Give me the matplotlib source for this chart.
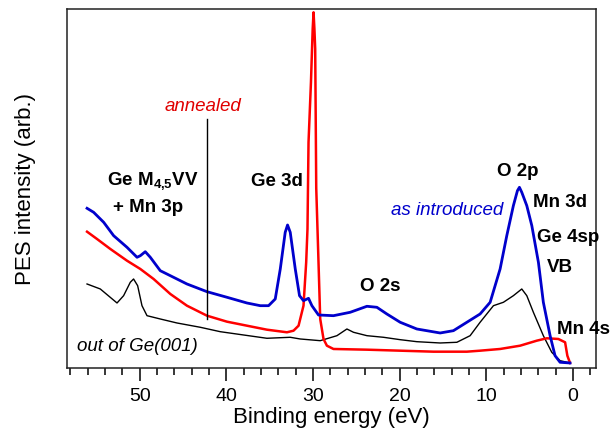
import matplotlib
matplotlib.use('Agg')
import matplotlib.pyplot as plt
from matplotlib.ticker import MultipleLocator, NullLocator

plt.rcParams['font.family'] = ['Liberation Sans', 'DejaVu Sans']
plt.rcParams['mathtext.fontset'] = 'custom'
plt.rcParams['mathtext.rm'] = 'Liberation Sans'
plt.rcParams['mathtext.bf'] = 'Liberation Sans:bold'

# as introduced (blue)
e_blue = [56.09, 55.33, 54.17, 53.02, 51.48, 50.32, 49.94, 49.37, 48.79, 47.64,
          46.48, 44.56, 42.25, 39.94, 37.64, 36.10, 35.14, 34.37, 33.79, 33.22,
          32.95, 32.64, 32.06, 31.57, 31.11, 30.53, 30.14, 29.38, 27.65, 25.72,
          23.79, 22.64, 21.49, 19.95, 18.03, 15.34, 13.81, 12.26, 10.73, 9.57,
          8.42, 7.65, 6.89, 6.42, 6.19, 5.92, 5.34, 4.76, 4.00, 3.43, 2.65,
          2.08, 1.50, 0.35]
i_blue = [159.7, 155.7, 145.7, 132.3, 120.7, 110.7, 112.3, 116.3, 110.7, 97.3,
          92.3, 84.0, 76.3, 70.7, 65.0, 62.3, 62.3, 69.0, 99.0, 135.7,
          143.0, 135.7, 99.0, 72.3, 67.3, 69.7, 62.3, 53.0, 52.3, 55.7,
          61.7, 60.7, 54.0, 45.7, 39.0, 35.0, 37.3, 45.7, 54.0, 65.7,
          99.0, 132.3, 162.3, 177.3, 180.7, 175.7, 162.3, 142.3, 105.7, 65.7, 32.3,
          12.3, 5.7, 5.0]

# annealed (red)
e_red = [56.09, 54.94, 53.40, 51.48, 49.94, 48.41, 46.48, 44.56, 42.25, 39.94,
         37.64, 35.33, 33.02, 32.26, 31.68, 31.11, 30.80, 30.65, 30.53, 30.25,
         30.05, 29.95, 29.85, 29.76, 29.64, 29.41, 29.18, 28.80, 28.41, 27.65,
         23.79, 19.95, 16.11, 12.26, 10.73, 8.42, 6.11, 4.19, 3.03, 1.70,
         0.92, 0.66, 0.35]
i_red = [136.3, 129.0, 119.0, 107.3, 99.0, 89.0, 74.0, 62.3, 52.3, 46.3,
         42.3, 38.3, 35.7, 37.3, 42.3, 62.3, 105.7, 139.0, 225.7, 285.7,
         339.0, 355.7, 339.0, 319.0, 180.0, 115.0, 49.0, 29.0, 22.3, 19.0,
         18.3, 17.3, 16.3, 16.3, 17.3, 19.0, 22.3, 27.3, 29.7, 29.0,
         25.7, 12.3, 5.0]

# out of Ge(001) (black)
e_black = [56.09, 54.56, 52.63, 51.87, 51.10, 50.72, 50.25, 49.75, 49.17, 47.64,
           45.71, 43.02, 40.72, 38.03, 35.33, 32.64, 31.49, 29.18, 27.25, 26.10,
           25.34, 23.79, 21.88, 19.95, 18.03, 15.34, 13.41, 11.88, 10.73, 9.19,
           8.04, 6.89, 5.92, 5.34, 4.58, 3.43, 2.46, 1.50, 0.35]
i_black = [84.0, 79.0, 65.0, 72.3, 85.7, 89.0, 82.3, 62.3, 52.3, 49.0,
           45.0, 40.7, 36.3, 33.0, 29.7, 30.7, 29.0, 27.3, 32.3, 39.0,
           35.7, 32.3, 30.7, 28.3, 26.3, 25.0, 25.7, 32.3, 45.7, 62.3,
           65.7, 72.3, 79.0, 72.3, 55.7, 32.3, 15.7, 7.3, 5.0]

# marker line for "annealed"
mark_e = 42.2
mark_i = [49, 249]

fig = plt.figure(figsize=(6.11, 4.39), dpi=100)
ax = fig.add_axes([0.1097, 0.1595, 0.8658, 0.8177])

ax.plot(e_black, i_black, color='black', lw=1.0)
ax.plot(e_red, i_red, color='#ff0000', lw=1.8)
ax.plot(e_blue, i_blue, color='#0000cc', lw=2.0)
ax.plot([mark_e, mark_e], mark_i, color='black', lw=1.0)

ax.set_xlim(58.4, -2.65)
ax.set_ylim(0, 359)
ax.xaxis.set_major_locator(MultipleLocator(10))
ax.xaxis.set_minor_locator(MultipleLocator(2))
ax.yaxis.set_major_locator(NullLocator())
ax.tick_params(axis='x', which='major', direction='out', length=9, width=1.1, labelsize=14, pad=5)
ax.tick_params(axis='x', which='minor', direction='out', length=5, width=1.1)
for s in ax.spines.values():
    s.set_linewidth(1.1)
    s.set_color('#222222')

ax.set_xlabel('Binding energy (eV)', fontsize=16, labelpad=1)
ax.set_ylabel('PES intensity (arb.)', fontsize=16, labelpad=22)

fs = 13.5
ax.text(42.68, 263, 'annealed', color='#e00000', style='italic', fontsize=fs, ha='center', va='center')
ax.text(48.44, 187, r'Ge M$_{\mathbf{4{,}5}}$VV', fontweight='bold', fontsize=fs, ha='center', va='center')
ax.text(49.02, 161, '+ Mn 3p', fontweight='bold', fontsize=fs, ha='center', va='center')
ax.text(34.14, 187, 'Ge 3d', fontweight='bold', fontsize=fs, ha='center', va='center')
ax.text(22.26, 82, 'O 2s', fontweight='bold', fontsize=fs, ha='center', va='center')
ax.text(6.34, 197, 'O 2p', fontweight='bold', fontsize=fs, ha='center', va='center')
ax.text(4.61, 166, 'Mn 3d', fontweight='bold', fontsize=fs, ha='left', va='center')
ax.text(4.15, 131, 'Ge 4sp', fontweight='bold', fontsize=fs, ha='left', va='center')
ax.text(3.0, 101, 'VB', fontweight='bold', fontsize=fs, ha='left', va='center')
ax.text(1.85, 39, 'Mn 4s', fontweight='bold', fontsize=fs, ha='left', va='center')
ax.text(8.07, 158, 'as introduced', color='#0000cc', style='italic', fontsize=fs, ha='right', va='center')
ax.text(57.2, 22, 'out of Ge(001)', style='italic', fontsize=fs, ha='left', va='center')

fig.savefig('out.png', dpi=100)
